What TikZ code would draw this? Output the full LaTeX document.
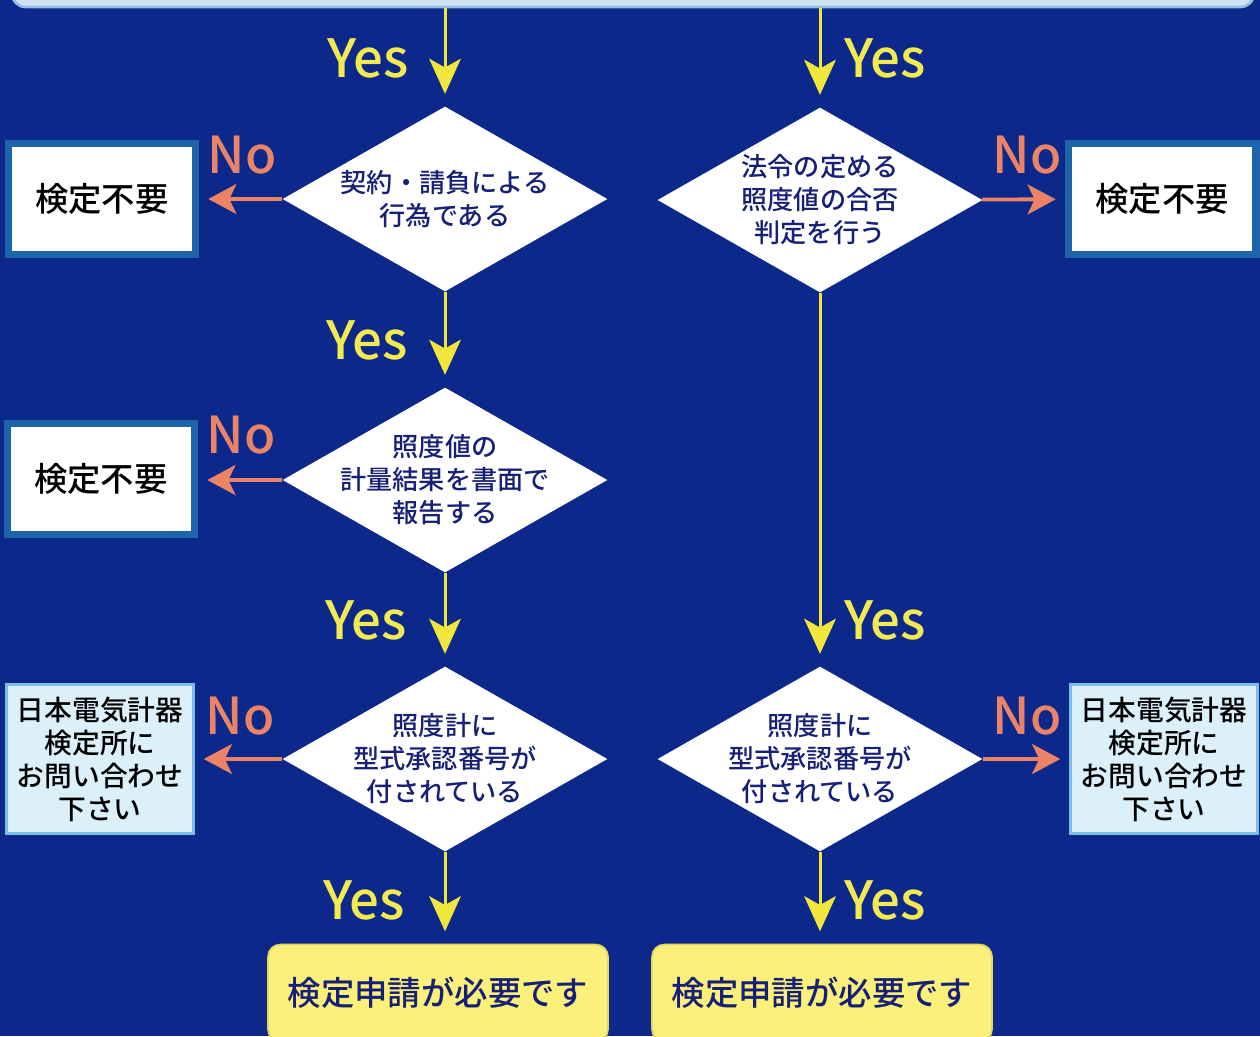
\documentclass[tikz,border=0pt]{standalone}
\usepackage{fontspec}
\setmainfont{Noto Sans CJK JP}
\IfFontExistsTF{Noto Sans CJK JP Medium}
  {\newfontfamily\jpmed{Noto Sans CJK JP Medium}}
  {\newfontfamily\jpmed{Noto Sans CJK JP}}
\usetikzlibrary{arrows.meta}
\usetikzlibrary{shapes.geometric}
\usetikzlibrary{positioning}

\definecolor{bgblue}{RGB}{11,40,138}
\definecolor{topfill}{RGB}{208,227,244}
\definecolor{topedge}{RGB}{150,190,225}
\definecolor{arrowyellow}{RGB}{240,230,60}
\definecolor{yestext}{RGB}{242,234,80}
\definecolor{salmon}{RGB}{235,132,102}
\definecolor{navytext}{RGB}{22,32,118}
\definecolor{boxedge}{RGB}{30,100,170}
\definecolor{askfill}{RGB}{220,240,250}
\definecolor{askedge}{RGB}{125,190,230}
\definecolor{endfill}{RGB}{250,240,122}
\definecolor{endedge}{RGB}{225,215,95}

\begin{document}
\begin{tikzpicture}[x=0.02cm, y=-0.02cm,
    dia/.style={diamond, fill=white, inner sep=0pt, minimum width=6.5cm, minimum height=3.7cm},
    qtxt/.style={align=center, text=navytext, inner sep=0pt, font=\jpmed\fontsize{14.9pt}{18.8pt}\selectfont},
    nobox/.style={rectangle, draw=boxedge, line width=4pt, fill=white, minimum width=3.76cm, minimum height=2.22cm, font=\jpmed\fontsize{19pt}{23pt}\selectfont},
    askbox/.style={rectangle, draw=askedge, line width=1.7pt, fill=askfill, minimum width=3.74cm, minimum height=2.98cm, align=center, inner sep=0pt, font=\jpmed\fontsize{15.8pt}{18.8pt}\selectfont},
    endbox/.style={rectangle, rounded corners=7pt, draw=endedge, line width=1pt, fill=endfill, minimum width=6.8cm, minimum height=1.94cm, text=navytext, font=\jpmed\fontsize{19pt}{23pt}\selectfont},
    topbox/.style={rectangle, rounded corners=8pt, draw=topedge, line width=1.5pt, fill=topfill, minimum width=24.86cm, minimum height=1.48cm},
    yesarr/.style={draw=arrowyellow, line width=1.7pt, -{Stealth[length=20pt, width=18pt, inset=5pt]}, shorten >=7pt},
    noarr/.style={draw=salmon, line width=2.2pt, -{Stealth[length=16pt, width=17pt, inset=4pt]}, shorten >=5pt},
    yeslbl/.style={text=yestext, inner sep=0pt, font=\jpmed\fontsize{30pt}{30pt}\selectfont},
    nolbl/.style={text=salmon, inner sep=0pt, font=\jpmed\fontsize{29pt}{29pt}\selectfont}
  ]
  \useasboundingbox (0,0) rectangle (1260,1036);
  \clip (0,0) rectangle (1260,1036);
  \fill[bgblue] (0,0) rectangle (1260,1036);

  \node[topbox] (t0) at (633,-30) {};

  % decisions
  \node[dia, label={[qtxt]center:{契約・請負による\\行為である}}] (d1) at (445,199) {};
  \node[dia, label={[qtxt]center:{法令の定める\\照度値の合否\\判定を行う}}] (d2) at (820,200) {};
  \node[dia, label={[qtxt]center:{照度値の\\計量結果を書面で\\報告する}}] (d3) at (445,480) {};
  \node[dia, label={[qtxt]center:{照度計に\\型式承認番号が\\付されている}}] (d4) at (445,759) {};
  \node[dia, label={[qtxt]center:{照度計に\\型式承認番号が\\付されている}}] (d5) at (820,759) {};

  % outcomes
  \node[nobox] (b1) at (102,199) {検定不要};
  \node[nobox] (b2) at (1162,199) {検定不要};
  \node[nobox] (b3) at (101,479) {検定不要};
  \node[askbox] (b4) at (100,759) {日本電気計器\\検定所に\\お問い合わせ\\下さい};
  \node[askbox] (b5) at (1164,759) {日本電気計器\\検定所に\\お問い合わせ\\下さい};
  \node[endbox] (e1) at (438,993) {検定申請が必要です};
  \node[endbox] (e2) at (822,993) {検定申請が必要です};

  % yes
  \draw[yesarr] (t0.south -| d1) -- (d1);
  \draw[yesarr] (t0.south -| d2) -- (d2);
  \draw[yesarr] (d1) -- (d3);
  \draw[yesarr] (d3) -- (d4);
  \draw[yesarr] (d2) -- (d5);
  \draw[yesarr] (d4.south) -- (d4.south |- e1.north);
  \draw[yesarr] (d5.south) -- (d5.south |- e2.north);

  \node[yeslbl] (y1) at (368,58) {Yes};
  \node[yeslbl] (y2) at (885,58) {Yes};
  \node[yeslbl] (y3) at (367,340) {Yes};
  \node[yeslbl] (y4) at (366,620) {Yes};
  \node[yeslbl] (y5) at (364,900) {Yes};
  \node[yeslbl] (y6) at (885,620) {Yes};
  \node[yeslbl] (y7) at (885,900) {Yes};

  % no
  \draw[noarr] (d1) -- (b1);
  \draw[noarr] (d2) -- (b2);
  \draw[noarr] (d3.west) -- (d3.west -| b3.east);
  \draw[noarr] (d4) -- (b4);
  \draw[noarr] (d5) -- (b5);

  \node[nolbl] (n1) at (242,155) {No};
  \node[nolbl] (n2) at (1027,155) {No};
  \node[nolbl] (n3) at (241,435) {No};
  \node[nolbl] (n4) at (240,716) {No};
  \node[nolbl] (n5) at (1027,716) {No};
\end{tikzpicture}
\end{document}
